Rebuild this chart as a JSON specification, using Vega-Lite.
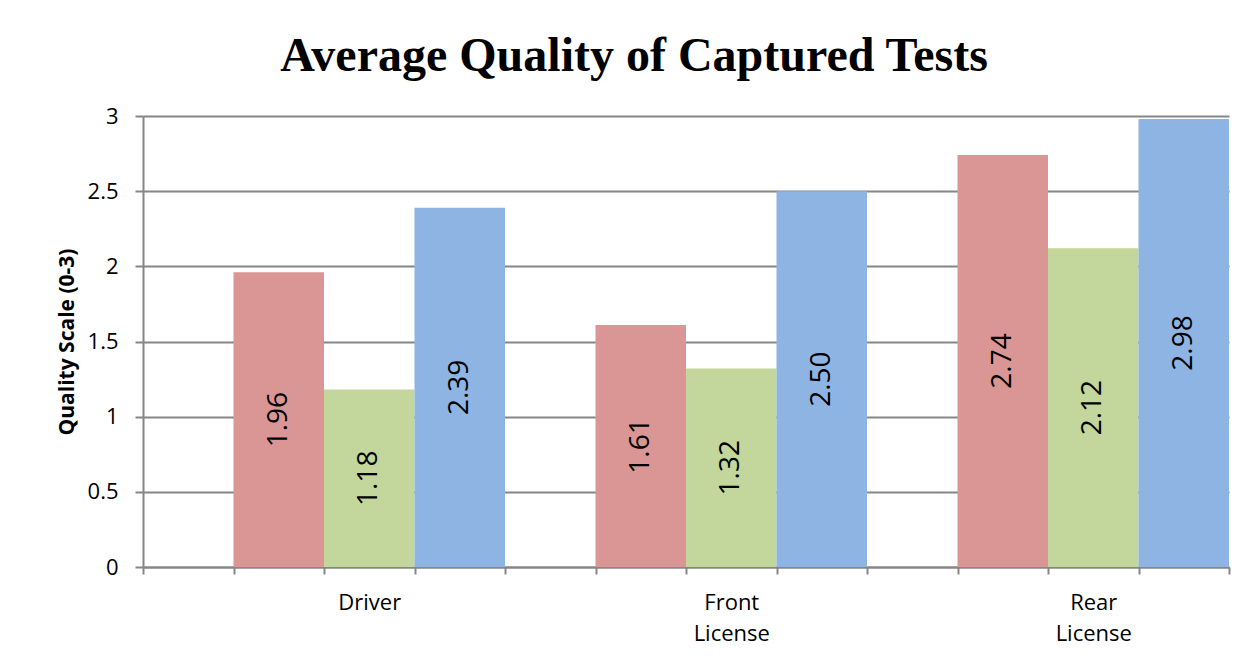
{
  "$schema": "https://vega.github.io/schema/vega-lite/v6.json",
  "autosize": {"type": "none"},
  "width": 1086,
  "height": 451,
  "padding": {"left": 143, "top": 116, "right": 28, "bottom": 97},
  "background": "white",
  "title": {
    "text": "Average Quality of Captured Tests",
    "font": "Liberation Serif",
    "fontSize": 48,
    "fontWeight": "bold",
    "color": "black",
    "anchor": "middle",
    "frame": "bounds",
    "baseline": "alphabetic",
    "offset": -14,
    "dx": -9
  },
  "data": {
    "values": [
      {"bar": "d1", "group": "Driver", "series": "S1", "value": 1.96},
      {"bar": "d2", "group": "Driver", "series": "S2", "value": 1.18},
      {"bar": "d3", "group": "Driver", "series": "S3", "value": 2.39},
      {"bar": "f1", "group": "Front License", "series": "S1", "value": 1.61},
      {"bar": "f2", "group": "Front License", "series": "S2", "value": 1.32},
      {"bar": "f3", "group": "Front License", "series": "S3", "value": 2.50},
      {"bar": "r1", "group": "Rear License", "series": "S1", "value": 2.74},
      {"bar": "r2", "group": "Rear License", "series": "S2", "value": 2.12},
      {"bar": "r3", "group": "Rear License", "series": "S3", "value": 2.98}
    ]
  },
  "encoding": {
    "x": {
      "field": "bar",
      "type": "nominal",
      "scale": {
        "domain": ["g1", "d1", "d2", "d3", "g2", "f1", "f2", "f3", "g3", "r1", "r2", "r3"],
        "paddingInner": 0,
        "paddingOuter": 0
      },
      "axis": {
        "title": null,
        "labelAngle": 0,
        "labelExpr": "datum.value == 'd2' ? 'Driver' : datum.value == 'f2' ? ['Front', 'License'] : datum.value == 'r2' ? ['Rear', 'License'] : ''",
        "labelFont": "Open Sans",
        "labelFontSize": 22,
        "labelColor": "black",
        "labelLineHeight": 31,
        "labelPadding": 18,
        "labelBaseline": "top",
        "tickBand": "extent",
        "tickSize": 7,
        "tickColor": "#868686",
        "tickWidth": 2,
        "domainColor": "#868686",
        "domainWidth": 2,
        "grid": false
      }
    }
  },
  "layer": [
    {
      "mark": {"type": "bar"},
      "encoding": {
        "y": {
          "field": "value",
          "type": "quantitative",
          "scale": {"domain": [0, 3], "nice": false},
          "axis": {
            "title": "Quality Scale (0-3)",
            "titleFont": "Open Sans",
            "titleFontSize": 21,
            "titleFontWeight": "bold",
            "titleColor": "black",
            "titlePadding": 10,
            "values": [0, 0.5, 1, 1.5, 2, 2.5, 3],
            "format": "",
            "labelFont": "Open Sans",
            "labelFontSize": 22,
            "labelColor": "black",
            "labelPadding": 17,
            "tickSize": 8,
            "tickColor": "#868686",
            "tickWidth": 2,
            "domainColor": "#868686",
            "domainWidth": 2,
            "grid": true,
            "gridColor": "#868686",
            "gridWidth": 2
          }
        },
        "color": {
          "field": "series",
          "type": "nominal",
          "scale": {"domain": ["S1", "S2", "S3"], "range": ["#D99694", "#C3D69B", "#8EB4E3"]},
          "legend": null
        }
      }
    },
    {
      "transform": [{"calculate": "datum.value / 2", "as": "mid"}],
      "mark": {"type": "text", "angle": 270, "font": "Open Sans", "fontSize": 28, "color": "black", "align": "center", "baseline": "middle"},
      "encoding": {
        "y": {"field": "mid", "type": "quantitative"},
        "text": {"field": "value", "type": "quantitative", "format": ".2f"}
      }
    }
  ],
  "config": {
    "view": {"stroke": null}
  }
}
